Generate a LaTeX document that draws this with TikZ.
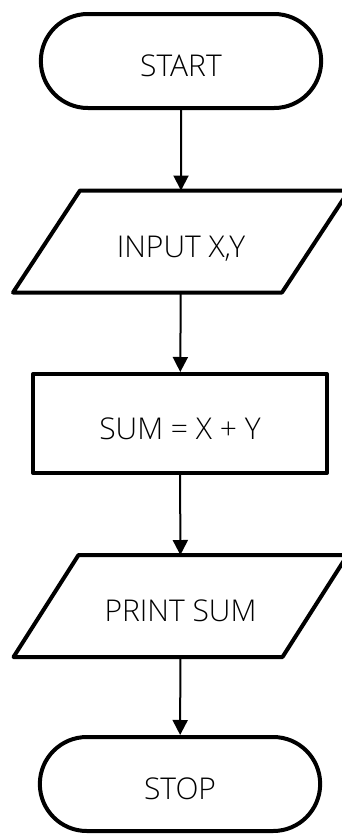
\documentclass[tikz,border=0pt]{standalone}
\usepackage{fontspec}
\setmainfont{Open Sans Light}
\usetikzlibrary{shapes.misc,arrows.meta}
\tikzset{
  terminal/.style={rounded rectangle,draw,line width=4pt,minimum width=287pt,minimum height=94pt,text height=31pt,text depth=0pt},
  io/.style={rectangle,outer sep=2pt,minimum width=265pt,minimum height=98pt,text height=31pt,text depth=0pt},
  process/.style={rectangle,draw,line width=4pt,line join=round,minimum width=294pt,minimum height=99pt,text height=31pt,text depth=0pt},
  box/.style={line width=4pt,line join=round},
  flow/.style={line width=2pt,-{Triangle[length=15pt,width=15pt]}}
}
\begin{document}
\begin{tikzpicture}[x=1pt,y=-1pt,font=\fontsize{30}{36}\selectfont]
\useasboundingbox (0,0) rectangle (341,835);
\node[terminal] (start) at (181,61) {START};
\node[io] (input) at (181,241.5) {INPUT X,Y};
\node[process] (sum) at (180,423.5) {SUM = X + Y};
\node[io] (print) at (180.5,606) {PRINT SUM};
\node[terminal] (stop) at (180,784) {STOP};
% parallelograms for input and output
\draw[box] ([xshift=-33.5pt]input.south west) -- ([xshift=-33.5pt]input.south east)
  -- ([xshift=33.5pt]input.north east) -- ([xshift=33.5pt]input.north west) -- cycle;
\draw[box] ([xshift=-32.5pt]print.south west) -- ([xshift=-32.5pt]print.south east)
  -- ([xshift=32.5pt]print.north east) -- ([xshift=32.5pt]print.north west) -- cycle;
\draw[flow] (start) -- (input);
\draw[flow] (input) -- (sum);
\draw[flow] (sum) -- (print);
\draw[flow] (print) -- (stop);
\end{tikzpicture}
\end{document}
